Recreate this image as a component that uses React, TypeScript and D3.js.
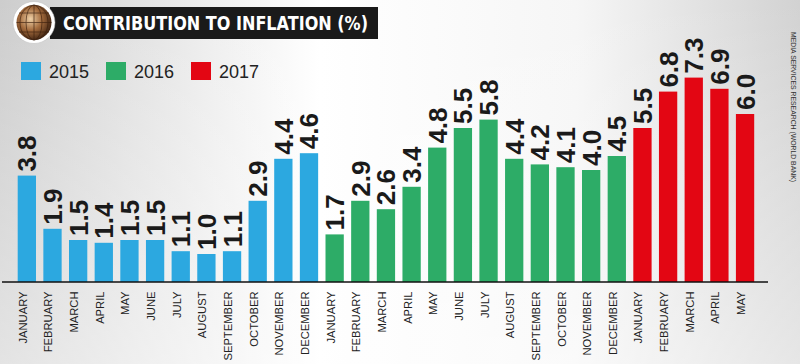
import * as d3 from 'd3'

const months = ['JANUARY', 'FEBRUARY', 'MARCH', 'APRIL', 'MAY', 'JUNE', 'JULY', 'AUGUST', 'SEPTEMBER', 'OCTOBER', 'NOVEMBER', 'DECEMBER']
const years = ['2015', '2016', '2017']
const values2015 = [3.8, 1.9, 1.5, 1.4, 1.5, 1.5, 1.1, 1.0, 1.1, 2.9, 4.4, 4.6]
const values2016 = [1.7, 2.9, 2.6, 3.4, 4.8, 5.5, 5.8, 4.4, 4.2, 4.1, 4.0, 4.5]
const values2017 = [5.5, 6.8, 7.3, 6.9, 6.0]
const colors = ['#2ca8e0', '#2dac67', '#e30613']

const W = 800
const H = 364
const baseY = 282

const rows = [values2015, values2016, values2017].flatMap((vals, yi) =>
  vals.map((v, mi) => ({ id: `${years[yi]}-${mi}`, month: months[mi], year: yi, value: v }))
)

export default function App() {
  const x = d3.scaleBand<string>()
    .domain(rows.map(d => d.id))
    .range([17.7, 754.2])
    .paddingInner(0.287)
    .paddingOuter(0)

  const y = d3.scaleLinear().domain([0, 7.3]).range([baseY, baseY - 204.4])
  const bw = x.bandwidth()

  return (
    <svg width={W} height={H} style={{ position: 'absolute', left: 0, top: 0 }}>
      <defs>
        <linearGradient id="bg" x1="0" x2="1" y1="0" y2="0">
          <stop offset="0" stopColor="#cdcdcd" />
          <stop offset="0.4" stopColor="#ffffff" />
          <stop offset="0.72" stopColor="#f6f6f6" />
          <stop offset="1" stopColor="#d2d2d2" />
        </linearGradient>
        <linearGradient id="bgv" x1="0" x2="0" y1="0" y2="1">
          <stop offset="0" stopColor="#ffffff" stopOpacity="0" />
          <stop offset="1" stopColor="#ffffff" stopOpacity="0.45" />
        </linearGradient>
        <radialGradient id="globe" cx="0.4" cy="0.4" r="0.65">
          <stop offset="0" stopColor="#f0d2a8" />
          <stop offset="0.5" stopColor="#a26a3c" />
          <stop offset="1" stopColor="#3b2010" />
        </radialGradient>
      </defs>
      <rect width={W} height={H} fill="url(#bg)" />
      <rect width={W} height={H} fill="url(#bgv)" />

      {/* title band */}
      <rect x={50} y={7} width={328} height={32} fill="#1a1a1a" />
      <text x={63} y={29.5} fill="#fff" fontFamily="'DejaVu Sans', sans-serif" fontWeight="bold"
        fontSize={19} textLength={305} lengthAdjust="spacingAndGlyphs">CONTRIBUTION TO INFLATION (%)</text>

      {/* globe */}
      <circle cx={34} cy={22.5} r={21} fill="#fff" stroke="#bbb" strokeWidth={0.5} />
      <circle cx={34} cy={22.5} r={17.5} fill="url(#globe)" />
      <g stroke="#3a1e0c" strokeWidth={0.8} fill="none" opacity={0.8}>
        <ellipse cx={34} cy={22.5} rx={8} ry={17.5} />
        <ellipse cx={34} cy={22.5} rx={14} ry={17.5} />
        <line x1={34} y1={5} x2={34} y2={40} />
        <line x1={16.5} y1={22.5} x2={51.5} y2={22.5} />
        <line x1={19} y1={13} x2={49} y2={13} />
        <line x1={19} y1={32} x2={49} y2={32} />
      </g>

      {/* legend */}
      {years.map((yr, i) => (
        <g key={yr} transform={`translate(${21 + i * 85},62)`}>
          <rect width={20} height={18} fill={colors[i]} />
          <text x={28} y={15.5} fontFamily="'Liberation Sans', Arial, sans-serif" fontSize={18} fill="#222">{yr}</text>
        </g>
      ))}

      {/* bars */}
      {rows.map(d => (
        <rect key={d.id} x={x(d.id)} y={y(d.value)} width={bw} height={baseY - y(d.value)} fill={colors[d.year]} />
      ))}

      {/* value labels */}
      {rows.map(d => {
        const cx = (x(d.id) ?? 0) + bw / 2 + 9.5
        const ty = y(d.value) - 4
        return (
          <text key={'v' + d.id} transform={`translate(${cx},${ty}) rotate(-90)`}
            fontFamily="'Liberation Sans Narrow', 'Arial Narrow', sans-serif" fontWeight="bold"
            fontSize={26} fill="#1a1a1a">{d.value.toFixed(1)}</text>
        )
      })}

      {/* axis line */}
      <line x1={2} x2={768} y1={baseY} y2={baseY} stroke="#111" strokeWidth={1.5} />

      {/* month labels */}
      {rows.map(d => {
        const cx = (x(d.id) ?? 0) + bw / 2
        return (
          <text key={'m' + d.id} transform={`translate(${cx},291.5) rotate(-90)`} textAnchor="end"
            fontFamily="'Liberation Sans', Arial, sans-serif" fontSize={11.2} fill="#222">{d.month}</text>
        )
      })}

      {/* source */}
      <text transform="translate(791,32) rotate(90)" fontFamily="'Liberation Sans Narrow', 'Arial Narrow', sans-serif"
        fontSize={8} fill="#333" textLength={150} lengthAdjust="spacingAndGlyphs">MEDIA SERVICES RESEARCH (WORLD BANK)</text>
    </svg>
  )
}
